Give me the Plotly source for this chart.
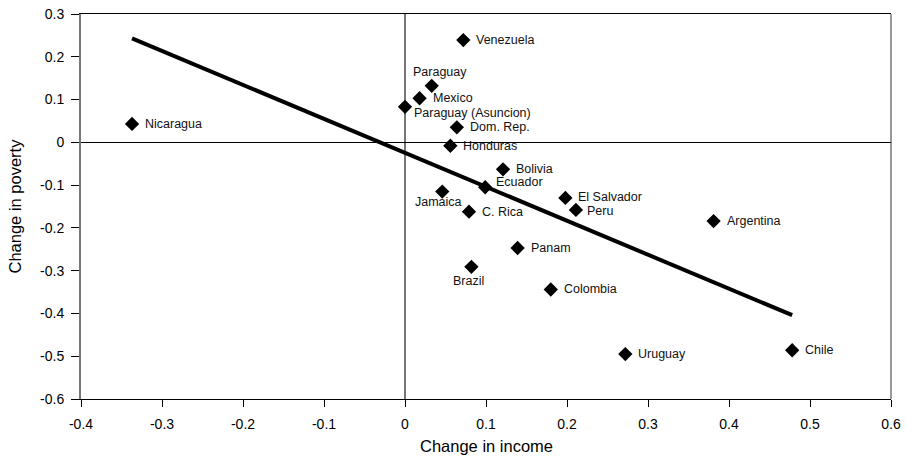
import plotly.graph_objects as go

countries = ["Nicaragua", "Venezuela", "Paraguay", "Mexico", "Paraguay (Asuncion)", "Dom. Rep.",
             "Honduras", "Bolivia", "Ecuador", "Jamaica", "C. Rica", "El Salvador", "Peru",
             "Panam", "Brazil", "Colombia", "Uruguay", "Argentina", "Chile"]
income = [-0.337, 0.072, 0.033, 0.018, 0.0, 0.064, 0.056, 0.121, 0.099, 0.046, 0.079, 0.198, 0.211,
          0.139, 0.082, 0.180, 0.272, 0.381, 0.478]
poverty = [0.043, 0.239, 0.132, 0.103, 0.083, 0.035, -0.008, -0.063, -0.105, -0.115, -0.162, -0.130, -0.158,
           -0.247, -0.291, -0.344, -0.495, -0.184, -0.486]

# label placement: (xanchor, xshift, yshift) in pixels
label_style = {
    "Paraguay": ("center", 8, 14),
    "Paraguay (Asuncion)": ("left", 7, -6),
    "Ecuador": ("left", 9, 5),
    "Jamaica": ("center", -4, -10),
    "Brazil": ("center", -3, -14),
    "El Salvador": ("left", 11, 1),
    "Peru": ("left", 9, -1),
}

fit_x = [-0.337, 0.478]
fit_y = [0.243, -0.404]

x_ticks = [-0.4, -0.3, -0.2, -0.1, 0, 0.1, 0.2, 0.3, 0.4, 0.5, 0.6]
x_tick_labels = ["-0.4", "-0.3", "-0.2", "-0.1", "0", "0.1", "0.2", "0.3", "0.4", "0.5", "0.6"]
y_ticks = [-0.6, -0.5, -0.4, -0.3, -0.2, -0.1, 0, 0.1, 0.2, 0.3]
y_tick_labels = ["-0.6", "-0.5", "-0.4", "-0.3", "-0.2", "-0.1", "0", "0.1", "0.2", "0.3"]

FONT = "Liberation Sans, Arial, sans-serif"

fig = go.Figure()
fig.add_trace(go.Scatter(x=fit_x, y=fit_y, mode="lines",
                         line=dict(color="black", width=4), hoverinfo="skip"))
fig.add_trace(go.Scatter(x=income, y=poverty, mode="markers",
                         marker=dict(symbol="diamond", size=11, color="black")))

for name, xv, yv in zip(countries, income, poverty):
    xa, xs, ys = label_style.get(name, ("left", 11, 0))
    fig.add_annotation(x=xv, y=yv, text=name, showarrow=False, xanchor=xa, yanchor="middle",
                       xshift=xs, yshift=ys, font=dict(family=FONT, size=12.5, color="#111"))

fig.add_shape(type="line", xref="paper", yref="paper", x0=1, x1=1, y0=0, y1=1,
              line=dict(color="#333", width=1))

# axis titles
fig.add_annotation(xref="paper", yref="paper", x=0.5, y=0, yanchor="middle", yshift=-47,
                   text="Change in income", showarrow=False, font=dict(family=FONT, size=16.5))
fig.add_annotation(xref="paper", yref="paper", x=0, y=0.5, xanchor="center", xshift=-67,
                   text="Change in poverty", textangle=-90, showarrow=False,
                   font=dict(family=FONT, size=16.5))

fig.update_layout(
    width=907, height=457,
    margin=dict(l=81, r=16, t=14, b=57.5),
    plot_bgcolor="white", paper_bgcolor="white",
    showlegend=False,
    font=dict(family=FONT, size=14, color="black"),
)
fig.update_xaxes(range=[-0.4, 0.6], tickvals=x_ticks, ticktext=x_tick_labels, automargin=False,
                 showgrid=False, zeroline=True, zerolinecolor="#777", zerolinewidth=2,
                 showline=True, linecolor="black", linewidth=1, mirror=True,
                 ticks="outside", ticklen=7, tickcolor="black", ticklabelstandoff=5,
                 tickfont=dict(size=14))
fig.update_yaxes(range=[-0.6, 0.3], tickvals=y_ticks, ticktext=y_tick_labels, automargin=False,
                 showgrid=False, zeroline=True, zerolinecolor="black", zerolinewidth=1,
                 showline=True, linecolor="#777", linewidth=2, mirror=False,
                 ticks="outside", ticklen=8, tickcolor="black", ticklabelstandoff=4,
                 tickfont=dict(size=14))

fig.write_html("out.html", config={"displayModeBar": False},
               post_script="document.body.style.margin='0';document.body.style.overflow='hidden';")
